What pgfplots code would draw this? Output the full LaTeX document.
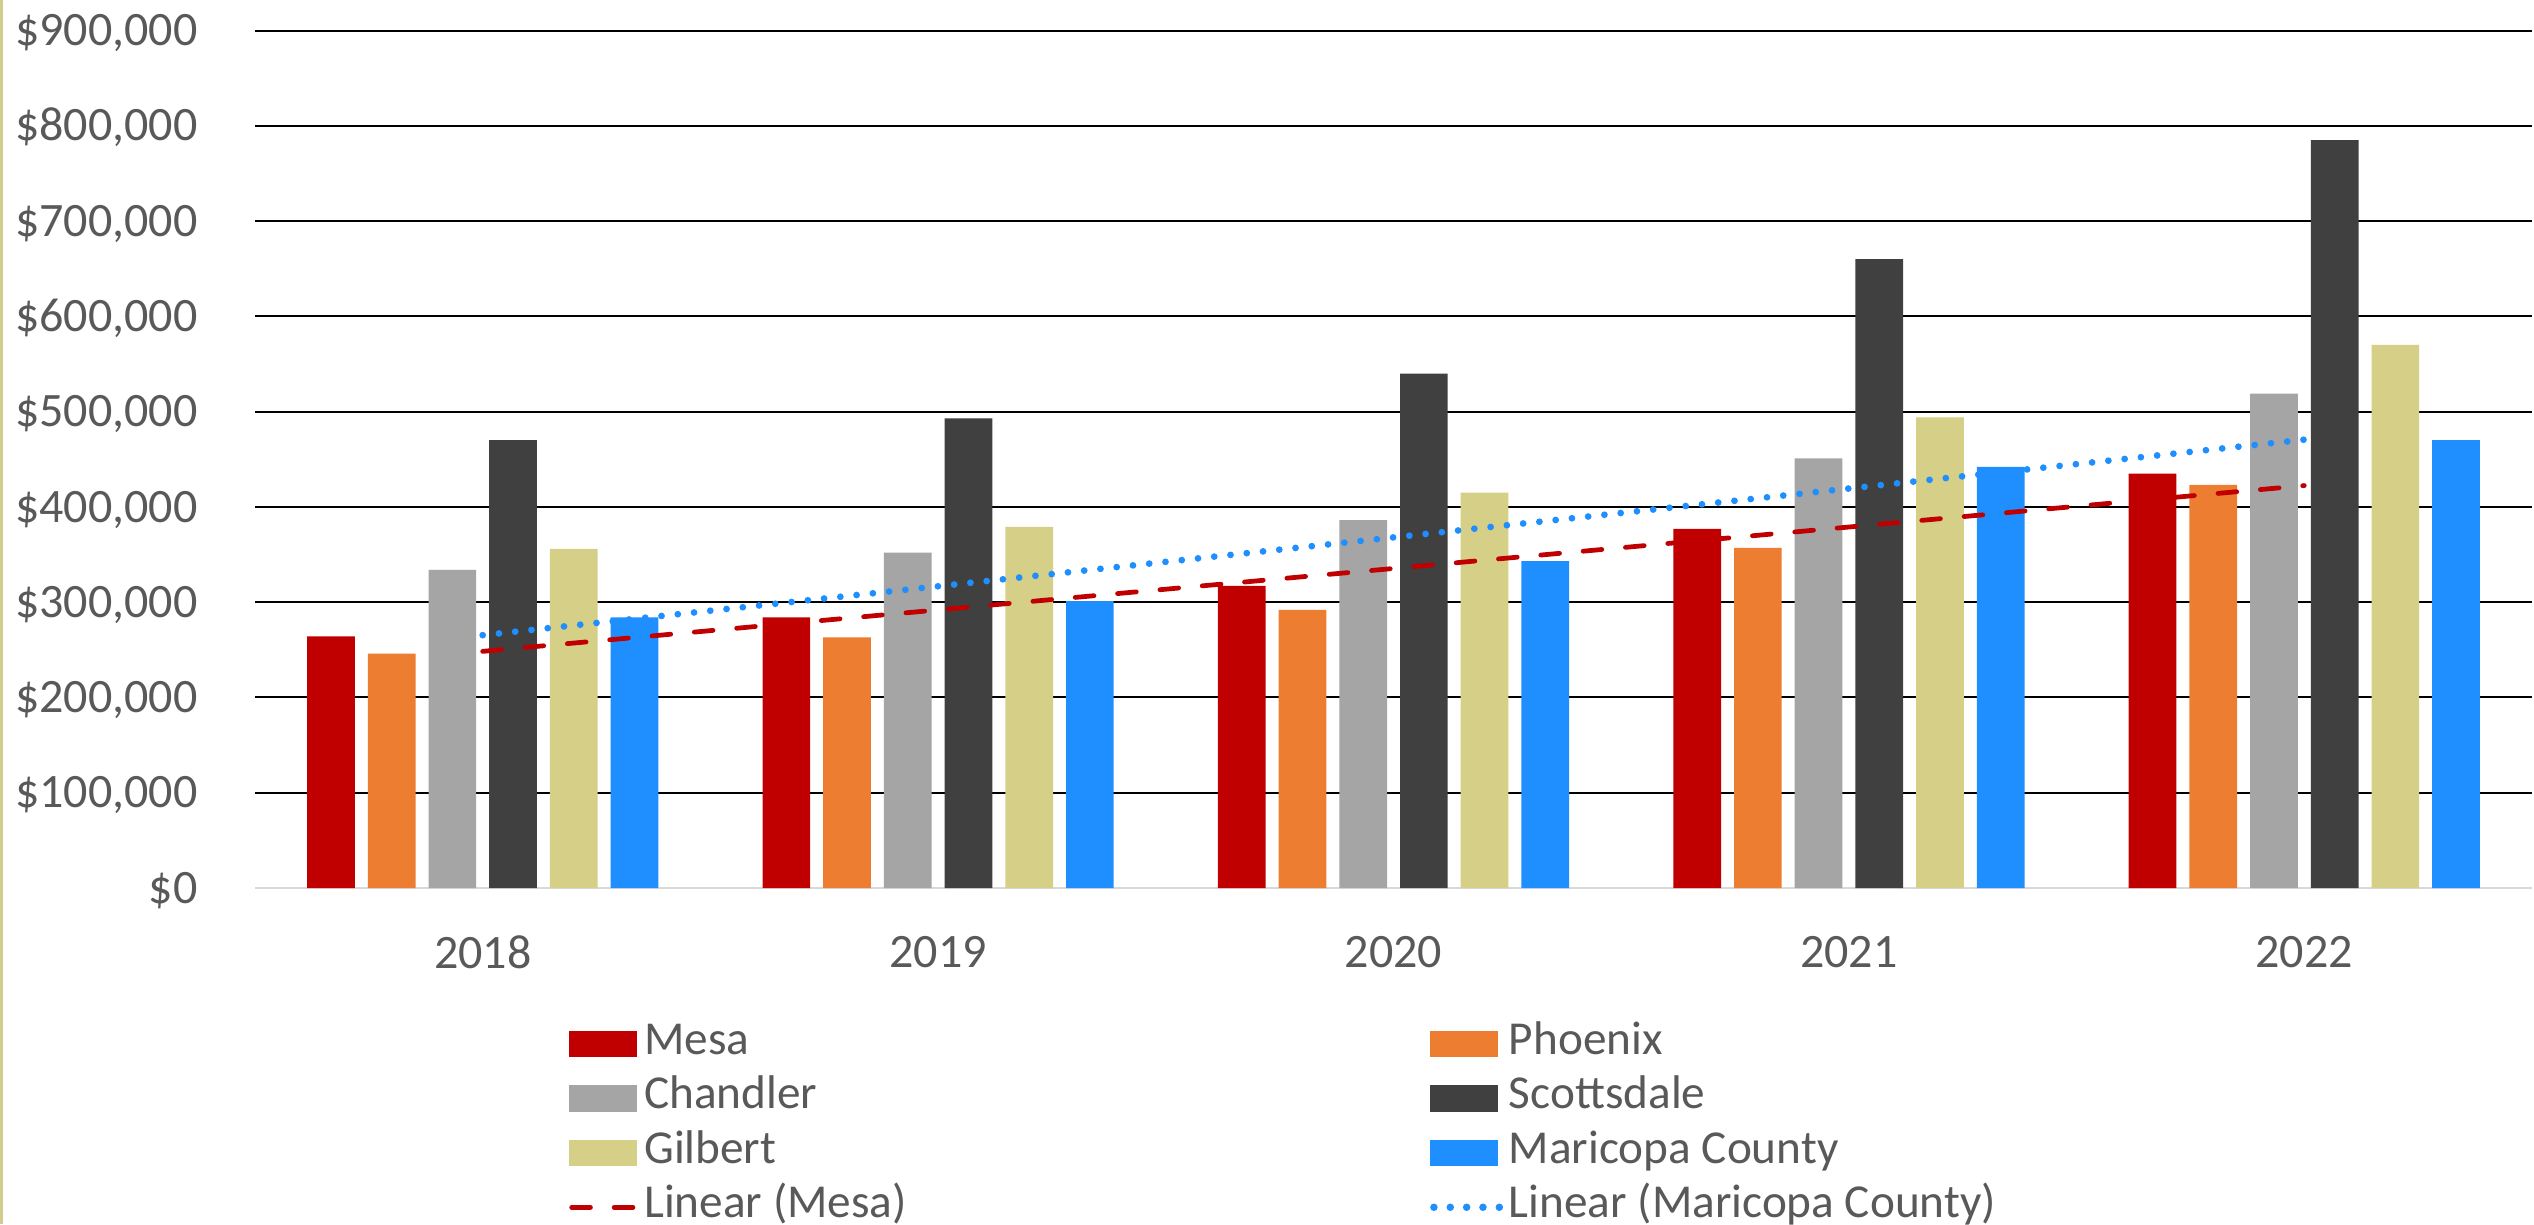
\documentclass[border=0pt]{standalone}
\usepackage{fontspec}
\setmainfont{Carlito}
\usepackage{pgfplots}
\pgfplotsset{compat=1.18}
\definecolor{mesa}{HTML}{C00000}
\definecolor{phoenix}{HTML}{ED7D31}
\definecolor{chandler}{HTML}{A5A5A5}
\definecolor{scotts}{HTML}{404040}
\definecolor{gilbert}{HTML}{D6CF87}
\definecolor{maricopa}{HTML}{1F8FFF}
\definecolor{txt}{HTML}{595959}
\definecolor{framec}{HTML}{D4CC8A}
\definecolor{axisgray}{HTML}{D9D9D9}
\pgfplotsset{barleg/.style={legend image code/.code={\fill[#1] (0pt,-2.65pt) rectangle (13.5pt,2.65pt);}}}
\newcommand{\LE}[1]{\makebox[156.2pt][l]{#1}}
\begin{document}
\begin{tikzpicture}
\useasboundingbox (0,0) rectangle (506.8pt,244.8pt);
\fill[white] (0,0) rectangle (506.8pt,244.8pt);
\draw[framec, line width=0.5pt] (0.25pt,0) -- (0.25pt,244.8pt);
\begin{axis}[
  at={(51pt,67.2pt)}, anchor=south west,
  scale only axis, width=455.4pt, height=171.5pt,
  xmin=-0.5, xmax=4.5, ymin=0, ymax=900000,
  scaled y ticks=false,
  xtick={0,1,2,3,4}, xticklabels={2018,2019,2020,2021,2022},
  ytick={0,100000,200000,300000,400000,500000,600000,700000,800000,900000},
  yticklabels={{\$0},{\$100,000},{\$200,000},{\$300,000},{\$400,000},{\$500,000},{\$600,000},{\$700,000},{\$800,000},{\$900,000}},
  axis lines*=left,
  x axis line style={draw=axisgray, line width=0.5pt},
  y axis line style={draw=none},
  major tick length=0pt,
  ymajorgrids, major grid style={black, line width=0.4pt},
  tick label style={font=\fontsize{9.6}{11}\selectfont, text=txt},
  yticklabel style={anchor=east, inner sep=0pt, xshift=-11.3pt, text height=6.07pt, text depth=0pt},
  xticklabel style={anchor=north, inner sep=0pt, yshift=-9.4pt},
  legend columns=2,
  legend cell align=left,
  legend style={at={(axis description cs:0.1376,-0.1487)}, anchor=north west, draw=none, fill=none, inner sep=0pt,
    font=\fontsize{9.45}{11}\selectfont, text=txt,
    nodes={inner xsep=1pt, inner ysep=1.2pt, text height=6.3pt, text depth=2.2pt}},
]
\addplot[ybar, bar width=9.54pt, bar shift=-30.35pt, fill=mesa, draw=none, barleg=mesa]
  coordinates {(0,264000) (1,284000) (2,317000) (3,377000) (4,435000)};
\addlegendentry{\LE{Mesa}}
\addplot[ybar, bar width=9.54pt, bar shift=-18.21pt, fill=phoenix, draw=none, barleg=phoenix]
  coordinates {(0,246000) (1,263000) (2,292000) (3,357000) (4,423000)};
\addlegendentry{\LE{Phoenix}}
\addplot[ybar, bar width=9.54pt, bar shift=-6.07pt, fill=chandler, draw=none, barleg=chandler]
  coordinates {(0,334000) (1,352000) (2,386000) (3,451000) (4,519000)};
\addlegendentry{\LE{Chandler}}
\addplot[ybar, bar width=9.54pt, bar shift=6.07pt, fill=scotts, draw=none, barleg=scotts]
  coordinates {(0,470000) (1,493000) (2,540000) (3,660000) (4,785000)};
\addlegendentry{\LE{Scottsdale}}
\addplot[ybar, bar width=9.54pt, bar shift=18.21pt, fill=gilbert, draw=none, barleg=gilbert]
  coordinates {(0,356000) (1,379000) (2,415000) (3,494000) (4,570000)};
\addlegendentry{\LE{Gilbert}}
\addplot[ybar, bar width=9.54pt, bar shift=30.35pt, fill=maricopa, draw=none, barleg=maricopa]
  coordinates {(0,284000) (1,301000) (2,343000) (3,442000) (4,470000)};
\addlegendentry{\LE{Maricopa County}}
\addplot[sharp plot, mesa, line width=0.95pt, line cap=round, dash pattern=on 3.75pt off 4.75pt,
  legend image code/.code={\draw[mesa, line width=0.95pt, line cap=round, dash pattern=on 3.75pt off 4.75pt] (0.475pt,0pt) -- (13.5pt,0pt);}]
  coordinates {(0,248400) (4,422400)};
\addlegendentry{\LE{Linear (Mesa)}}
\addplot[sharp plot, maricopa, line width=1.35pt, line cap=round, dash pattern=on 0pt off 3.27pt,
  legend image code/.code={\draw[maricopa, line width=1.5pt, line cap=round, dash pattern=on 0pt off 3.27pt] (0.75pt,0pt) -- (14pt,0pt);}]
  coordinates {(0,265400) (4,470600)};
\addlegendentry{\LE{Linear (Maricopa County)}}
\end{axis}
\end{tikzpicture}
\end{document}
